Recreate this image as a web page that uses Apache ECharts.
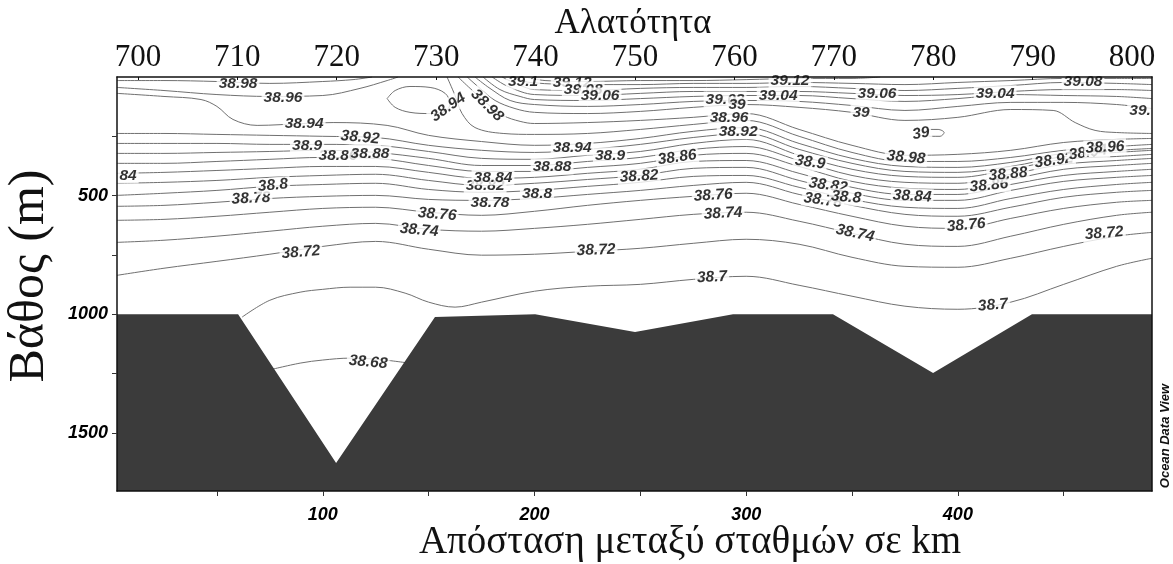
<!DOCTYPE html>
<html>
<head>
<meta charset="utf-8">
<title>Αλατότητα</title>
<script src="https://cdn.jsdelivr.net/npm/echarts@6/dist/echarts.min.js"></script>
<style>
html, body { margin: 0; padding: 0; background: #fff; }
#main { width: 1173px; height: 564px; }
</style>
</head>
<body>
<div id="main"></div>
<script>
// columns along the section (km)
var km = [2.8, 25, 50, 75, 100, 125, 150, 175, 200, 225, 250, 275, 300, 325, 350, 375, 400, 425, 450, 475, 491.7];

// depth (m) of each isohaline at the columns above
var s3872 = [836, 806, 777, 747, 714, 693, 726, 751, 747, 735, 722, 701, 684, 705, 760, 798, 802, 764, 714, 671, 655];
var s3874 = [697, 688, 671, 650, 629, 617, 642, 650, 638, 621, 600, 579, 570, 608, 659, 705, 714, 671, 621, 583, 570];
var s3876 = [604, 600, 587, 570, 554, 549, 570, 583, 566, 541, 520, 503, 490, 537, 587, 629, 638, 596, 554, 528, 520];
var s3878 = [545, 541, 528, 512, 503, 499, 516, 520, 512, 495, 478, 457, 444, 495, 541, 579, 587, 549, 507, 486, 478];
var s3880 = [499, 490, 478, 461, 453, 448, 474, 486, 478, 461, 444, 419, 415, 465, 516, 549, 554, 512, 474, 453, 444];
var s3882 = [448, 444, 436, 423, 415, 410, 436, 457, 448, 432, 415, 385, 381, 436, 490, 520, 520, 478, 440, 423, 415];
var s3884 = [406, 402, 394, 385, 377, 377, 402, 427, 423, 406, 389, 356, 352, 406, 465, 495, 495, 453, 415, 398, 389];
var s3886 = [364, 364, 356, 347, 339, 343, 373, 398, 398, 381, 364, 330, 322, 377, 440, 469, 474, 432, 389, 373, 364];
var s3888 = [322, 322, 318, 314, 309, 318, 343, 373, 373, 356, 339, 305, 293, 352, 415, 444, 448, 410, 368, 352, 343];
var s3890 = [280, 280, 280, 284, 284, 288, 314, 343, 347, 330, 314, 280, 263, 330, 389, 419, 423, 389, 347, 335, 326];
var s3892 = [238, 238, 242, 246, 250, 255, 288, 309, 318, 305, 284, 255, 238, 305, 364, 398, 402, 377, 335, 318, 309];

// isohalines that do not span the whole section: [km, depth]
var s3868 = [[74.2, 1236], [89.3, 1206], [100, 1193], [112.9, 1185], [125, 1189], [140, 1205]];
var s3870 = [[61.9, 1012], [75, 941], [89.3, 907], [100, 895], [112.9, 886], [125, 886], [138.9, 911], [150, 949], [162.5, 970], [175, 949], [200, 903], [225, 882], [250, 874], [275, 853], [300, 840], [325, 878], [350, 924], [375, 966], [400, 979], [425, 949], [450, 874], [475, 798], [491.7, 764]];
var s3894 = [[2.8, 69], [25, 82], [42.5, 95], [50, 124], [57.6, 179], [69, 204], [90.7, 196], [104.9, 192], [130.4, 204], [150, 246], [175, 272], [200, 288], [225, 280], [250, 259], [275, 229], [300, 213], [325, 280], [350, 343], [375, 377], [400, 381], [425, 360], [450, 322], [475, 309], [491.7, 301]];
var s3894loop = [[130.4, 91], [134.2, 57], [141.2, 40], [150.7, 44], [157.8, 69], [160.1, 112], [157.8, 145], [150.7, 154], [141.2, 149], [134.2, 128], [130.4, 91]];
var s3896west = [[2.8, 44], [25, 57], [50, 74], [75, 82], [100, 78], [117.6, 48], [130.4, 15], [135.6, 0]];
var s3896east = [[158.7, 0], [162.5, 78], [165.8, 154], [171.9, 213], [185.2, 238], [200, 242], [225, 238], [250, 221], [275, 200], [300, 183], [325, 250], [350, 318], [375, 356], [400, 356], [425, 339], [450, 309], [475, 293], [491.7, 284]];
var s3898west = [[2.8, 15], [25, 15], [50, 19], [75, 27], [100, 19], [114.3, 11], [123.3, 0]];
var s3898east = [[163.9, 0], [169.6, 48], [177.6, 112], [185.2, 162], [193.2, 187], [200, 196], [225, 192], [250, 183], [275, 170], [300, 154], [325, 221], [350, 288], [375, 330], [400, 326], [425, 309], [450, 276], [475, 263], [491.7, 259]];
var s3900 = [[168.2, 0], [174.3, 48], [181.4, 99], [190.8, 133], [200, 149], [225, 154], [250, 145], [275, 128], [300, 116], [325, 128], [350, 149], [375, 183], [400, 170], [425, 137], [445, 141], [455.4, 192], [464.8, 225], [475, 234], [491.7, 238]];
var s3900loop = [[385, 238], [386.9, 221], [390.6, 221], [393.5, 234], [391.6, 250], [386.9, 250], [385, 238]];
var s3902 = [[171.9, 0], [179, 48], [188.5, 99], [200, 116], [225, 124], [250, 116], [275, 103], [300, 99], [325, 103], [350, 120], [375, 141], [400, 124], [425, 107], [450, 107], [475, 116], [491.7, 133]];
var s3904 = [[175.7, 0], [183.7, 53], [193.2, 82], [200, 95], [225, 99], [250, 91], [275, 82], [300, 78], [325, 78], [350, 91], [375, 103], [400, 91], [425, 74], [450, 78], [475, 82], [491.7, 91]];
var s3906 = [[180, 0], [187.5, 40], [200, 74], [225, 78], [250, 69], [275, 61], [300, 61], [325, 61], [350, 69], [375, 78], [400, 74], [425, 61], [450, 53], [475, 53], [491.7, 57]];
var s3908 = [[184.7, 0], [192.3, 32], [200, 53], [225, 57], [250, 48], [275, 44], [300, 44], [325, 40], [350, 48], [375, 57], [400, 48], [425, 36], [450, 23], [475, 27], [491.7, 32]];
var s3910 = [[189.4, 0], [197.9, 23], [225, 32], [250, 32], [275, 27], [300, 27], [325, 23], [350, 27], [375, 32], [400, 23], [425, 15], [450, 6], [475, 6], [491.7, 6]];
var s3912 = [[195.6, 0], [205, 15], [225, 19], [250, 15], [275, 15], [300, 11], [325, 6], [350, 6], [363.3, 0]];

// sea floor
var bottomKm = [2.8, 60, 106.3, 153, 200.3, 247.5, 293.8, 341, 388.3, 435, 491.7];
var bottomDepth = [1000, 1000, 1627, 1012, 1000, 1075, 1000, 1000, 1248, 1000, 1000];

// contour labels: text, km, depth, rotation
var contourLabels = [
  ['38.98', 60, 27, 0], ['38.96', 81.2, 86, 0], ['38.94', 91.2, 196, 0],
  ['38.94', 159.2, 128, 35], ['38.98', 177.6, 120, -45],
  ['39.1', 194.6, 19, 0], ['39.12', 217.8, 23, 0], ['39.08', 223, 53, 0], ['39.06', 231, 78, 0],
  ['39.02', 290, 95, 0], ['39', 295.7, 116, 0], ['38.96', 291.9, 170, 0], ['38.92', 296.2, 229, 0],
  ['39.04', 315.1, 78, 0], ['39.12', 320.7, 15, 0], ['39.06', 361.8, 69, 0], ['39', 354.3, 149, 0],
  ['39.04', 417.6, 69, 0], ['39.08', 459.1, 19, 0], ['39.', 486.1, 141, 0],
  ['39', 382.6, 238, 10], ['38.98', 375.5, 339, -5], ['38.9', 330.2, 360, -8],
  ['38.82', 338.7, 457, -8], ['38.78', 336.3, 520, -8], ['38.8', 347.2, 507, -5],
  ['38.84', 378.4, 503, -3], ['38.86', 414.7, 457, 5], ['38.88', 423.7, 410, 5],
  ['38.92', 445.4, 352, 8], ['38.94', 461.5, 318, 8], ['38.96', 469.5, 297, 3],
  ['38.74', 351.4, 659, -12], ['38.76', 403.9, 625, 5], ['38.72', 469.1, 659, 5],
  ['38.7', 416.6, 962, 5], ['38.7', 283.9, 844, 3], ['38.72', 229.1, 730, 2],
  ['38.74', 289.1, 575, 3], ['38.76', 284.4, 499, 3], ['38.76', 154, 579, -5],
  ['38.74', 145.5, 646, -5], ['38.78', 179, 528, 0], ['38.8', 201.2, 490, 0],
  ['38.82', 176.7, 457, 0], ['38.84', 180.4, 423, 0], ['38.88', 208.3, 377, 0],
  ['38.94', 217.8, 297, 0], ['38.9', 235.7, 330, 0], ['38.86', 267.4, 339, 8],
  ['38.82', 249.4, 419, 3], ['38.72', 89.7, 739, 5], ['38.78', 66.1, 512, 3],
  ['38.8', 76.5, 457, 5], ['84', 8, 415, 0], ['38.86', 107.2, 330, 0],
  ['38.88', 122.3, 322, 0], ['38.9', 92.6, 288, 0], ['38.92', 117.6, 255, -5],
  ['38.68', 121.4, 1202, -5]
];

var topTicks = [700, 710, 720, 730, 740, 750, 760, 770, 780, 790, 800];
var kmTicks = [50, 100, 150, 200, 250, 300, 350, 400, 450];
var kmLabels = [100, 200, 300, 400];
var depthTicks = [250, 500, 750, 1000, 1250, 1500];
var depthLabels = [500, 1000, 1500];

function zip(xs, ys) {
  var out = [];
  for (var i = 0; i < xs.length; i++) out.push([xs[i], ys[i]]);
  return out;
}

var contourLines = [
  zip(km, s3872), zip(km, s3874), zip(km, s3876), zip(km, s3878), zip(km, s3880),
  zip(km, s3882), zip(km, s3884), zip(km, s3886), zip(km, s3888), zip(km, s3890), zip(km, s3892),
  s3868, s3870, s3894, s3894loop, s3896west, s3896east, s3898west, s3898east,
  s3900, s3900loop, s3902, s3904, s3906, s3908, s3910, s3912
];

var series = [];
for (var i = 0; i < contourLines.length; i++) {
  series.push({
    type: 'line',
    data: contourLines[i],
    smooth: 0.35,
    symbol: 'none',
    silent: true,
    lineStyle: { color: '#707070', width: 1 },
    z: 2
  });
}

// sea floor, filled down to the bottom of the axis
series.push({
  type: 'line',
  data: zip(bottomKm, bottomDepth),
  symbol: 'none',
  silent: true,
  lineStyle: { width: 0 },
  areaStyle: { color: '#3b3b3b', opacity: 1, origin: 'end' },
  z: 3
});

// contour labels
var labelData = [];
for (var j = 0; j < contourLabels.length; j++) {
  var c = contourLabels[j];
  labelData.push({
    value: [c[1], c[2]],
    label: { formatter: c[0], rotate: c[3] }
  });
}
series.push({
  type: 'scatter',
  data: labelData,
  symbolSize: 0,
  silent: true,
  z: 4,
  label: {
    show: true,
    position: 'inside',
    fontFamily: 'Liberation Sans, Arial, sans-serif',
    fontWeight: 'bold',
    fontStyle: 'italic',
    fontSize: 15.5,
    color: '#000',
    backgroundColor: '#ffffff',
    padding: [0, 2]
  }
});

function plain(v) { return String(v); }

var chart = echarts.init(document.getElementById('main'));
chart.setOption({
  animation: false,
  backgroundColor: '#ffffff',
  grid: { left: 117, right: 21, top: 77, bottom: 73 },
  xAxis: [{
    type: 'value',
    position: 'bottom',
    min: 2.8,
    max: 491.7,
    z: 10,
    axisLine: { show: true, onZero: false, lineStyle: { color: '#111', width: 1.5 } },
    axisTick: { show: true, customValues: kmTicks, length: 5, lineStyle: { color: '#333' } },
    axisLabel: {
      customValues: kmLabels, margin: 15, color: '#000', formatter: plain,
      fontFamily: 'Liberation Sans, Arial, sans-serif', fontWeight: 'bold', fontStyle: 'italic', fontSize: 18
    },
    splitLine: { show: false }
  }, {
    type: 'value',
    position: 'top',
    min: 697.9,
    max: 802.0,
    z: 10,
    axisLine: { show: true, onZero: false, lineStyle: { color: '#111', width: 1.5 } },
    axisTick: { show: true, inside: true, customValues: topTicks, length: 3, lineStyle: { color: '#111' } },
    axisLabel: {
      customValues: topTicks, margin: 4, color: '#111', formatter: plain,
      fontFamily: 'Liberation Serif, Times New Roman, serif', fontSize: 31
    },
    splitLine: { show: false }
  }],
  yAxis: [{
    type: 'value',
    inverse: true,
    min: 0,
    max: 1745,
    z: 10,
    axisLine: { show: true, onZero: false, lineStyle: { color: '#111', width: 1.5 } },
    axisTick: { show: true, customValues: depthTicks, length: 5, lineStyle: { color: '#333' } },
    axisLabel: {
      customValues: depthLabels, margin: 9, color: '#000', formatter: plain,
      fontFamily: 'Liberation Sans, Arial, sans-serif', fontWeight: 'bold', fontStyle: 'italic', fontSize: 18
    },
    splitLine: { show: false }
  }, {
    type: 'value',
    position: 'right',
    inverse: true,
    min: 0,
    max: 1745,
    z: 10,
    axisLine: { show: true, onZero: false, lineStyle: { color: '#111', width: 1.5 } },
    axisTick: { show: false },
    axisLabel: { show: false },
    splitLine: { show: false }
  }],
  graphic: [{
    type: 'text',
    x: 633, y: 24,
    style: { text: 'Αλατότητα', font: '35px "Liberation Serif", serif', fill: '#111', align: 'center', verticalAlign: 'middle' }
  }, {
    type: 'text',
    x: 30, y: 276, rotation: Math.PI / 2,
    style: { text: 'Βάθος (m)', font: '50px "Liberation Serif", serif', fill: '#111', align: 'center', verticalAlign: 'middle' }
  }, {
    type: 'text',
    x: 690, y: 543,
    style: { text: 'Απόσταση μεταξύ σταθμών σε km', font: '39px "Liberation Serif", serif', fill: '#111', align: 'center', verticalAlign: 'middle' }
  }, {
    type: 'text',
    x: 1165, y: 436, rotation: Math.PI / 2,
    style: { text: 'Ocean Data View', font: 'italic bold 13px "Liberation Sans", Arial, sans-serif', fill: '#111', align: 'center', verticalAlign: 'middle' }
  }],
  series: series
});
</script>
</body>
</html>
